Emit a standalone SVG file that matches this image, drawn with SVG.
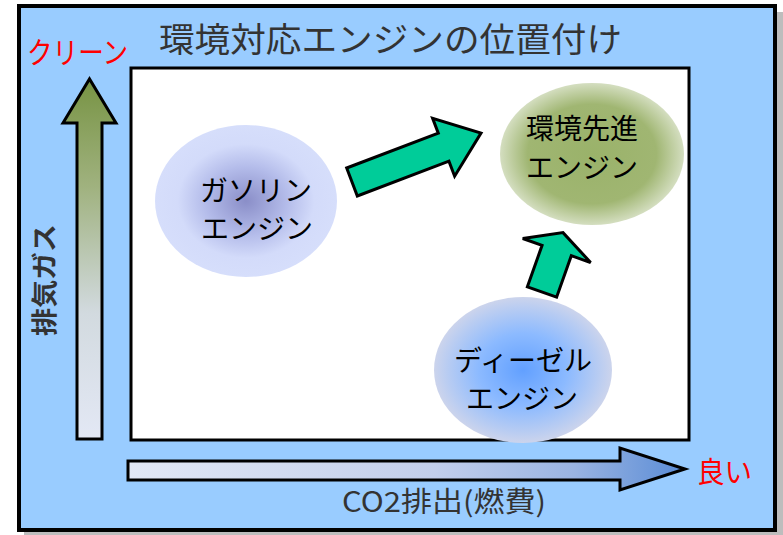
<svg xmlns="http://www.w3.org/2000/svg" width="783" height="535" viewBox="0 0 783 535">
<style>
.ttl{font-family:"Noto Sans CJK JP","Noto Sans",sans-serif;fill:#333333;}
.nd{font-family:"Noto Sans CJK JP","Noto Sans",sans-serif;fill:#000000;font-size:28px;text-anchor:middle;}
.red{font-family:"Noto Sans CJK JP","Noto Sans",sans-serif;fill:#FF0000;}
.garrow{fill:#00CC99;stroke:#000000;stroke-width:3;stroke-linejoin:miter;}
</style>
<defs>
<linearGradient id="gv" x1="0" y1="439" x2="0" y2="79" gradientUnits="userSpaceOnUse">
<stop offset="0" stop-color="#E3E8F5"/>
<stop offset="0.35" stop-color="#D2DADF"/>
<stop offset="0.7" stop-color="#A0B27F"/>
<stop offset="1" stop-color="#779343"/>
</linearGradient>
<linearGradient id="gh" x1="128" y1="0" x2="685" y2="0" gradientUnits="userSpaceOnUse">
<stop offset="0" stop-color="#E2E8F5"/>
<stop offset="0.55" stop-color="#C2CEEB"/>
<stop offset="0.8" stop-color="#9AB4E2"/>
<stop offset="1" stop-color="#5A8CD6"/>
</linearGradient>
<radialGradient id="rg1" cx="0.5" cy="0.5" r="0.5">
<stop offset="0" stop-color="#8A8EC8"/>
<stop offset="0.45" stop-color="#B4BCEA"/>
<stop offset="0.75" stop-color="#D3DBFA"/>
<stop offset="1" stop-color="#D6DEFB"/>
</radialGradient>
<radialGradient id="rg2" cx="0.5" cy="0.5" r="0.5">
<stop offset="0" stop-color="#9AB26A"/>
<stop offset="0.7" stop-color="#A0B672"/>
<stop offset="1" stop-color="#D4DEC0"/>
</radialGradient>
<radialGradient id="rg3" cx="0.5" cy="0.5" r="0.5">
<stop offset="0" stop-color="#62A0FF"/>
<stop offset="0.5" stop-color="#8CBAFF"/>
<stop offset="0.85" stop-color="#B8CCF2"/>
<stop offset="1" stop-color="#CCD4EC"/>
</radialGradient>
</defs>
<g id="frame">
<rect x="24" y="12" width="759" height="530" fill="#BDBDBD"/>
<rect x="19" y="6" width="756" height="524" fill="#99CCFF" stroke="#000000" stroke-width="4"/>
<rect x="131" y="68" width="558" height="372" fill="#FFFFFF" stroke="#000000" stroke-width="3"/>
<text class="ttl" x="159" y="52" font-size="34" textLength="463" lengthAdjust="spacingAndGlyphs">環境対応エンジンの位置付け</text>
</g>
<g id="axis-y">
<polygon points="77,439 77,123 63,123 89.5,79 116,123 102,123 102,439" fill="url(#gv)" stroke="#000000" stroke-width="3"/>
<text class="red" x="27" y="63" font-size="30" textLength="101" lengthAdjust="spacingAndGlyphs">クリーン</text>
<text class="ttl" x="0" y="0" font-size="26" font-weight="bold" text-anchor="middle" transform="translate(54,280) rotate(-90)" textLength="112" lengthAdjust="spacingAndGlyphs">排気ガス</text>
</g>
<g id="axis-x">
<polygon points="128,461 620,461 620,448 685,469 620,490 620,480 128,480" fill="url(#gh)" stroke="#000000" stroke-width="3"/>
<text class="red" x="697" y="483" font-size="29" textLength="55" lengthAdjust="spacingAndGlyphs">良い</text>
<text class="ttl" x="342" y="512" font-size="28" textLength="204" lengthAdjust="spacingAndGlyphs">CO2排出(燃費)</text>
</g>
<g id="node-gasoline">
<ellipse cx="246" cy="201" rx="91" ry="76" fill="url(#rg1)"/>
<text class="nd" x="256" y="201">ガソリン</text>
<text class="nd" x="257" y="239">エンジン</text>
</g>
<g id="node-advanced">
<ellipse cx="592" cy="154" rx="92" ry="71" fill="url(#rg2)"/>
<text class="nd" x="582" y="139" font-size="30">環境先進</text>
<text class="nd" x="582" y="178">エンジン</text>
</g>
<g id="node-diesel">
<ellipse cx="523" cy="370" rx="89" ry="73" fill="url(#rg3)"/>
<text class="nd" x="523" y="371">ディーゼル</text>
<text class="nd" x="522" y="409">エンジン</text>
</g>
<g id="connectors">
<polygon class="garrow" transform="translate(352,182) rotate(-20.8)" points="0,-15 98,-15 98,-31 138,0 98,31 98,15 0,15"/>
<polygon class="garrow" transform="translate(542,292) rotate(-70.5)" points="0,-15.5 44,-15.5 44,-36 63,0 44,36 44,15.5 0,15.5"/>
</g>
</svg>
